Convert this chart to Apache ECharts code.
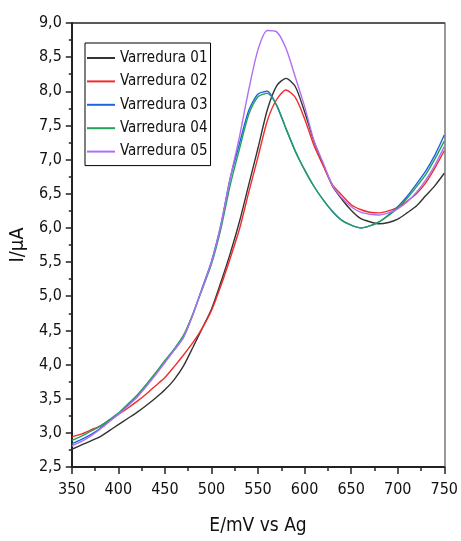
<!DOCTYPE html>
<html>
<head>
<meta charset="utf-8">
<script src="https://cdn.jsdelivr.net/npm/echarts@6/dist/echarts.min.js"></script>
<style>
html,body{margin:0;padding:0;background:#fff;}
#chart{width:461px;height:541px;}
</style>
</head>
<body>
<div id="chart"></div>
<script>
const E = [350,360,370,380,390,400,410,420,430,440,450,460,470,480,490,500,510,520,530,540,550,560,570,580,590,600,610,620,630,640,650,660,670,680,690,700,710,720,730,740,750];
const names = ['Varredura 01','Varredura 02','Varredura 03','Varredura 04','Varredura 05'];
const v01 = [2.76,2.82,2.88,2.94,3.03,3.12,3.21,3.30,3.40,3.51,3.63,3.78,3.98,4.25,4.53,4.81,5.20,5.62,6.09,6.63,7.17,7.73,8.08,8.19,8.07,7.70,7.27,6.93,6.61,6.42,6.26,6.14,6.09,6.06,6.08,6.13,6.22,6.32,6.47,6.62,6.80];
const v02 = [2.94,2.98,3.04,3.10,3.18,3.27,3.36,3.46,3.57,3.69,3.81,3.97,4.14,4.32,4.53,4.79,5.15,5.55,5.98,6.52,7.04,7.57,7.88,8.02,7.91,7.60,7.21,6.91,6.63,6.48,6.34,6.27,6.23,6.22,6.25,6.30,6.39,6.50,6.66,6.88,7.13];
const v03 = [2.84,2.90,2.97,3.06,3.17,3.28,3.40,3.53,3.69,3.86,4.04,4.21,4.40,4.73,5.12,5.51,6.04,6.72,7.23,7.72,7.96,8.00,7.79,7.45,7.12,6.85,6.61,6.41,6.24,6.11,6.04,6.00,6.03,6.09,6.19,6.31,6.46,6.64,6.83,7.07,7.36];
const v04 = [2.89,2.95,3.02,3.09,3.19,3.29,3.42,3.55,3.71,3.88,4.06,4.23,4.43,4.74,5.10,5.47,5.98,6.62,7.15,7.66,7.92,7.97,7.80,7.46,7.13,6.85,6.61,6.41,6.24,6.11,6.04,6.00,6.03,6.09,6.18,6.29,6.43,6.60,6.78,7.01,7.27];
const v05 = [2.81,2.87,2.95,3.05,3.16,3.27,3.39,3.52,3.68,3.85,4.03,4.21,4.40,4.73,5.11,5.50,6.03,6.72,7.33,8.02,8.61,8.89,8.87,8.63,8.21,7.78,7.28,6.95,6.62,6.44,6.31,6.23,6.20,6.19,6.22,6.28,6.38,6.52,6.70,6.92,7.19];
const colors = ['#333333','#f22b2b','#1e64dc','#24a05a','#b06ef0'];
const xTicks = [350,400,450,500,550,600,650,700,750];
const yTicks = [2.5,3.0,3.5,4.0,4.5,5.0,5.5,6.0,6.5,7.0,7.5,8.0,8.5,9.0];

const FONT = "'Liberation Sans Narrow','Arial Narrow','DejaVu Sans Condensed',sans-serif";
const allVals = [v01,v02,v03,v04,v05];
const series = allVals.map((vals,i)=>({
  name: names[i],
  type: 'line',
  data: E.map((e,j)=>[e, vals[j]]),
  symbol: 'none',
  showSymbol: false,
  smooth: 0.25,
  lineStyle: {color: colors[i], width: 1.4},
  itemStyle: {color: colors[i]},
  xAxisIndex: 0, yAxisIndex: 0,
  z: 3 + i
}));

const chart = echarts.init(document.getElementById('chart'), null, {renderer:'canvas'});
chart.setOption({
  animation: false,
  backgroundColor: '#fff',
  grid: {left: 69, right: 13, top: 23, bottom: 68, containLabel: false},
  legend: {
    show: true,
    orient: 'vertical',
    left: 85, top: 43,
    data: names.map((n,i)=>({name: n, icon: 'rect', itemStyle: {color: colors[i]}})),
    itemWidth: 28, itemHeight: 2,
    itemGap: 7.4,
    padding: [7, 3, 6, 2],
    borderColor: '#000', borderWidth: 1,
    backgroundColor: '#fff',
    textStyle: {fontFamily: FONT, fontSize: 15, color: '#111', lineHeight: 16}
  },
  xAxis: [{
    type: 'value', min: xTicks[0], max: xTicks[xTicks.length-1], interval: 50,
    name: 'E/mV vs Ag', nameLocation: 'middle', nameGap: 50,
    nameTextStyle: {fontFamily: FONT, fontSize: 19, color: '#111'},
    axisLine: {show: true, onZero: false, lineStyle: {color: '#222', width: 2}},
    axisTick: {show: true, inside: false, length: 7, lineStyle: {color: '#222', width: 1.5}},
    minorTick: {show: true, splitNumber: 2, length: 4, lineStyle: {color: '#222', width: 1.5}},
    axisLabel: {fontFamily: FONT, fontSize: 16, color: '#111', margin: 15},
    splitLine: {show: false}
  },{
    type: 'value', position: 'top', min: xTicks[0], max: xTicks[xTicks.length-1],
    axisLine: {show: true, onZero: false, lineStyle: {color: '#222', width: 1.5}},
    axisTick: {show: false}, axisLabel: {show: false}, splitLine: {show: false}
  }],
  yAxis: [{
    type: 'value', min: yTicks[0], max: yTicks[yTicks.length-1], interval: 0.5,
    name: 'I/\u03bcA', nameLocation: 'middle', nameGap: 43,
    nameTextStyle: {fontFamily: FONT, fontSize: 20, color: '#111'},
    axisLine: {show: true, onZero: false, lineStyle: {color: '#222', width: 2}},
    axisTick: {show: true, inside: false, length: 6, lineStyle: {color: '#222', width: 1.5}},
    minorTick: {show: true, splitNumber: 2, length: 3, lineStyle: {color: '#222', width: 1.5}},
    axisLabel: {fontFamily: FONT, fontSize: 16, color: '#111', margin: 10,
      formatter: v => v.toFixed(1).replace('.', ',')},
    splitLine: {show: false}
  },{
    type: 'value', position: 'right', min: yTicks[0], max: yTicks[yTicks.length-1],
    axisLine: {show: true, onZero: false, lineStyle: {color: '#777', width: 1.5}},
    axisTick: {show: false}, axisLabel: {show: false}, splitLine: {show: false}
  }],
  series: series
});
</script>
</body>
</html>
